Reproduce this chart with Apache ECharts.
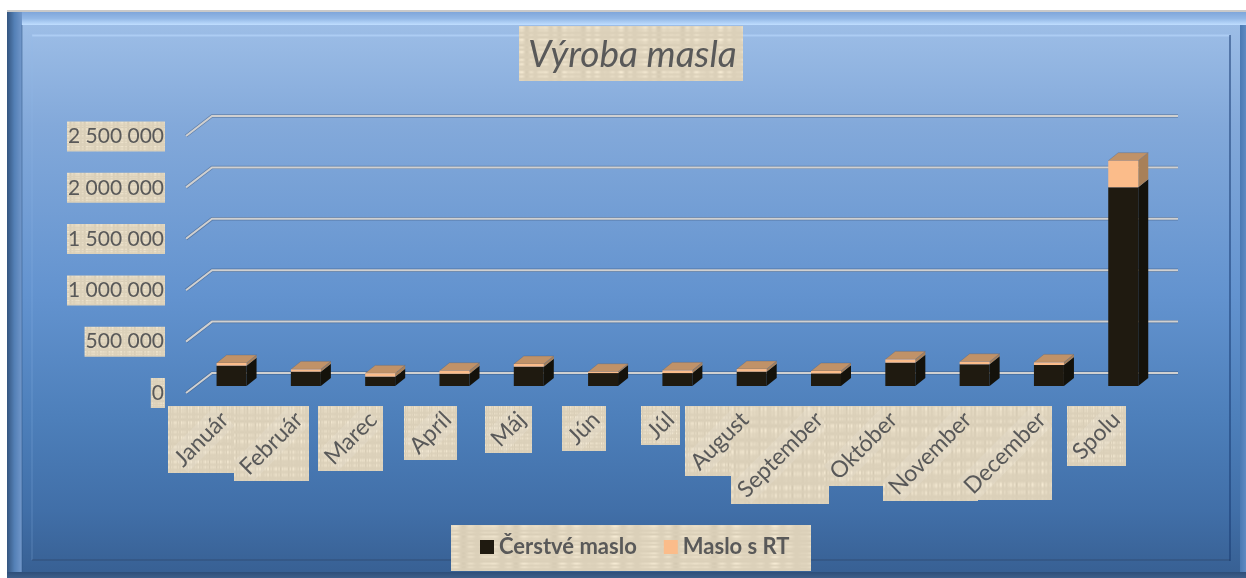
<!DOCTYPE html>
<html>
<head>
<meta charset="utf-8">
<script src="https://cdn.jsdelivr.net/npm/echarts@6/dist/echarts.min.js"></script>
<style>
  html, body { margin: 0; padding: 0; background: #fff; }
  #chart { width: 1246px; height: 578px; }
</style>
</head>
<body>
<div id="chart"></div>
<script>
const months = ['Január', 'Február', 'Marec', 'Apríl', 'Máj', 'Jún', 'Júl', 'August', 'September', 'Október', 'November', 'December', 'Spolu']
const cerstve = [198000, 139000, 91000, 120000, 188000, 126000, 126000, 139000, 123000, 227000, 211000, 204000, 1933000]
const rt = [26000, 23000, 32000, 29000, 26000, 13000, 26000, 26000, 23000, 32000, 25000, 26000, 259000]
const yTicks = [0, 500000, 1000000, 1500000, 2000000, 2500000]

const textColor = '#595959'
const fontName = 'Lato'
const monthFont = '23px ' + fontName

// plátnová textúra pod textami
function makeLinen() {
  const c = document.createElement('canvas')
  c.width = 240; c.height = 100
  const ctx = c.getContext('2d')
  const img = ctx.createImageData(c.width, c.height)
  for (let y = 0; y < c.height; y++) {
    for (let x = 0; x < c.width; x++) {
      const vx = Math.sin(x * 0.62) * Math.sin(x * 0.09 + 1) + Math.sin(x * 0.23 + 2) * 0.5
      const vy = Math.sin(y * 0.7) * Math.sin(y * 0.14 + 2) + Math.sin(y * 0.31) * 0.5
      const d = (vx + vy) * 5 + vx * vy * 6
      const i = (y * c.width + x) * 4
      img.data[i] = 223 + d
      img.data[i + 1] = 212 + d
      img.data[i + 2] = 189 + d
      img.data[i + 3] = 255
    }
  }
  ctx.putImageData(img, 0, 0)
  return c
}
const linen = makeLinen()

const measure = document.createElement('canvas').getContext('2d')
measure.font = monthFont

function vGrad(stops) {
  return new echarts.graphic.LinearGradient(0, 0, 0, 1, stops.map((s) => ({ offset: s[0], color: s[1] })))
}
function hGrad(stops) {
  return new echarts.graphic.LinearGradient(0, 0, 1, 0, stops.map((s) => ({ offset: s[0], color: s[1] })))
}

const panelGrad = [[0, '#a0c0e8'], [0.2, '#83a9da'], [0.5, '#6393cf'], [0.72, '#4d7fba'], [0.88, '#416fa8'], [1, '#375f92']]

const frame = [
  { type: 'rect', z: -5, shape: { x: 7, y: 12, width: 1239, height: 566 }, style: { fill: vGrad(panelGrad) } },
  { type: 'rect', z: -5, shape: { x: 7, y: 10, width: 1239, height: 2 }, style: { fill: '#c9c9c9' } },
  { type: 'rect', z: -4, shape: { x: 7, y: 12, width: 1239, height: 13 }, style: { fill: vGrad([[0, '#7fa6da'], [0.5, '#93b8e6'], [1, '#c0deff']]) } },
  { type: 'rect', z: -4, shape: { x: 7, y: 12, width: 15, height: 566 }, style: { fill: hGrad([[0, '#34557f'], [0.5, '#5480b6'], [1, '#7298cb']]) } },
  { type: 'rect', z: -4, shape: { x: 1240, y: 25, width: 6, height: 553 }, style: { fill: hGrad([[0, '#4a79b2'], [1, '#5e8bc3']]) } },
  { type: 'rect', z: -4, shape: { x: 7, y: 572, width: 1239, height: 6 }, style: { fill: vGrad([[0, '#2e4e78'], [1, '#3d5f8a']]) } },
  { type: 'line', z: -3, shape: { x1: 22, y1: 25, x2: 22, y2: 572 }, style: { stroke: 'rgba(40,80,130,0.5)', lineWidth: 1 } },
  { type: 'line', z: -3, shape: { x1: 32, y1: 35.5, x2: 1230, y2: 35.5 }, style: { stroke: 'rgba(190,220,255,0.55)', lineWidth: 2 } },
  { type: 'line', z: -3, shape: { x1: 32, y1: 35, x2: 32, y2: 560 }, style: { stroke: 'rgba(150,190,235,0.3)', lineWidth: 1 } },
  { type: 'line', z: -3, shape: { x1: 1230, y1: 35, x2: 1230, y2: 561 }, style: { stroke: 'rgba(25,60,115,0.7)', lineWidth: 1.5 } },
  { type: 'line', z: -3, shape: { x1: 32, y1: 560, x2: 1230, y2: 560 }, style: { stroke: 'rgba(40,60,90,0.35)', lineWidth: 1.5 } },
  { type: 'image', z: 0, style: { image: linen, x: 519, y: 26, width: 224, height: 55 } },
  { type: 'image', z: 0, style: { image: linen, x: 451, y: 525, width: 360, height: 46 } }
]

// mriežka s ľavou šikmou stenou
function renderGridLine(params, api) {
  const sys = params.coordSys
  const y = api.coord([0, api.value(1)])[1]
  const pts = [[sys.x - 8.4, y + 7], [sys.x + 17.6, y - 13], [sys.x + sys.width + 17.6, y - 13]]
  return {
    type: 'group',
    children: [
      { type: 'polyline', shape: { points: pts }, style: { fill: null, stroke: 'rgba(50,70,100,0.4)', lineWidth: 3.4 } },
      { type: 'polyline', shape: { points: pts }, style: { fill: null, stroke: '#d0d0d0', lineWidth: 2 } }
    ]
  }
}

const barWidth = 30
const depthX = 10
const depthY = 8

function renderDepth(sideColor, topColor) {
  return function (params, api) {
    const low = api.coord([api.value(0), api.value(1)])
    const high = api.coord([api.value(0), api.value(2)])
    const xl = low[0] - barWidth / 2
    const xr = low[0] + barWidth / 2
    const children = [{
      type: 'polygon',
      shape: { points: [[xr, low[1]], [xr + depthX, low[1] - depthY], [xr + depthX, high[1] - depthY], [xr, high[1]]] },
      style: { fill: sideColor }
    }]
    if (topColor) {
      children.push({
        type: 'polygon',
        shape: { points: [[xl, high[1]], [xl + depthX, high[1] - depthY], [xr + depthX, high[1] - depthY], [xr, high[1]]] },
        style: { fill: topColor, stroke: 'rgba(70,90,120,0.5)', lineWidth: 0.6 }
      })
    }
    return { type: 'group', children }
  }
}

// popisky kategórií: otočený text v osovo zarovnanom obdĺžniku
function monthBox(api) {
  const name = months[api.value(0)]
  const w = measure.measureText(name).width
  const h = 28
  const size = (w + h) * Math.SQRT1_2
  const p = api.coord([api.value(0), 0])
  const right = p[0] + 3
  const top = p[1] + 20
  return { name, w, h, size, right, top, cx: right - size / 2, cy: top + size / 2 }
}

function renderMonthBox(params, api) {
  const b = monthBox(api)
  return {
    type: 'group',
    children: [
      { type: 'image', style: { image: linen, x: b.right - b.size, y: b.top, width: b.size, height: b.size } },
      {
        type: 'rect', x: b.cx, y: b.cy, rotation: Math.PI / 4,
        shape: { x: -b.w / 2, y: -b.h / 2, width: b.w, height: b.h },
        style: { fill: 'rgba(255,255,255,0.1)' }
      }
    ]
  }
}

function renderMonthText(params, api) {
  const b = monthBox(api)
  return {
    type: 'text', x: b.cx, y: b.cy, rotation: Math.PI / 4,
    style: { text: b.name, fill: textColor, font: monthFont, align: 'center', verticalAlign: 'middle' }
  }
}

const chart = echarts.init(document.getElementById('chart'))
chart.setOption({
  animation: false,
  graphic: { elements: frame },
  title: {
    text: 'Výroba masla',
    left: 528,
    top: 37,
    padding: 0,
    textStyle: { color: textColor, fontFamily: fontName, fontStyle: 'italic', fontWeight: 'normal', fontSize: 37 }
  },
  legend: {
    data: ['Čerstvé maslo', 'Maslo s RT'],
    left: 480,
    top: 536,
    padding: 0,
    icon: 'rect',
    itemWidth: 14,
    itemHeight: 14,
    itemGap: 27,
    itemStyle: { borderWidth: 0 },
    textStyle: { color: textColor, fontFamily: fontName, fontWeight: 'bold', fontSize: 22 }
  },
  grid: [
    { left: 194.4, top: 129, width: 966, height: 257 },
    { left: 186, top: 136.5, width: 966, height: 256.5 }
  ],
  xAxis: [
    { gridIndex: 0, type: 'category', data: months, show: false },
    { gridIndex: 1, type: 'category', data: months, show: false }
  ],
  yAxis: [
    { gridIndex: 0, type: 'value', min: 0, max: 2500000, interval: 500000, show: false },
    {
      gridIndex: 1, type: 'value', min: 0, max: 2500000, interval: 500000,
      axisLine: { show: false }, axisTick: { show: false }, splitLine: { show: false },
      axisLabel: {
        margin: 21,
        color: textColor,
        fontFamily: fontName,
        fontSize: 21,
        padding: [5, 1, 4, 1],
        backgroundColor: { image: linen },
        formatter: (v) => String(v).replace(/\B(?=(\d{3})+$)/g, ' ')
      }
    }
  ],
  series: [
    {
      type: 'custom', name: 'mriežka', z: 1, silent: true,
      renderItem: renderGridLine, encode: { x: 0, y: 1 },
      data: yTicks.map((v) => [0, v])
    },
    {
      type: 'custom', name: 'bok čerstvé', z: 2, silent: true,
      renderItem: renderDepth('#14120b'), encode: { x: 0, y: [1, 2] },
      data: cerstve.map((v, i) => [i, 0, v])
    },
    {
      type: 'custom', name: 'bok RT', z: 2, silent: true,
      renderItem: renderDepth('#a88059', '#c09268'), encode: { x: 0, y: [1, 2] },
      data: rt.map((v, i) => [i, cerstve[i], cerstve[i] + v])
    },
    {
      type: 'bar', name: 'Čerstvé maslo', stack: 'spolu', barWidth: barWidth, z: 3,
      itemStyle: { color: '#1f1a10' },
      data: cerstve
    },
    {
      type: 'bar', name: 'Maslo s RT', stack: 'spolu', barWidth: barWidth, z: 3,
      itemStyle: { color: '#fbbc8a' },
      data: rt
    },
    {
      type: 'custom', name: 'podklad popiskov', z: 4, silent: true,
      renderItem: renderMonthBox, encode: { x: 0, y: 1 },
      data: months.map((m, i) => [i, 0])
    },
    {
      type: 'custom', name: 'popisky', z: 5, silent: true,
      renderItem: renderMonthText, encode: { x: 0, y: 1 },
      data: months.map((m, i) => [i, 0])
    }
  ]
})
</script>
</body>
</html>
